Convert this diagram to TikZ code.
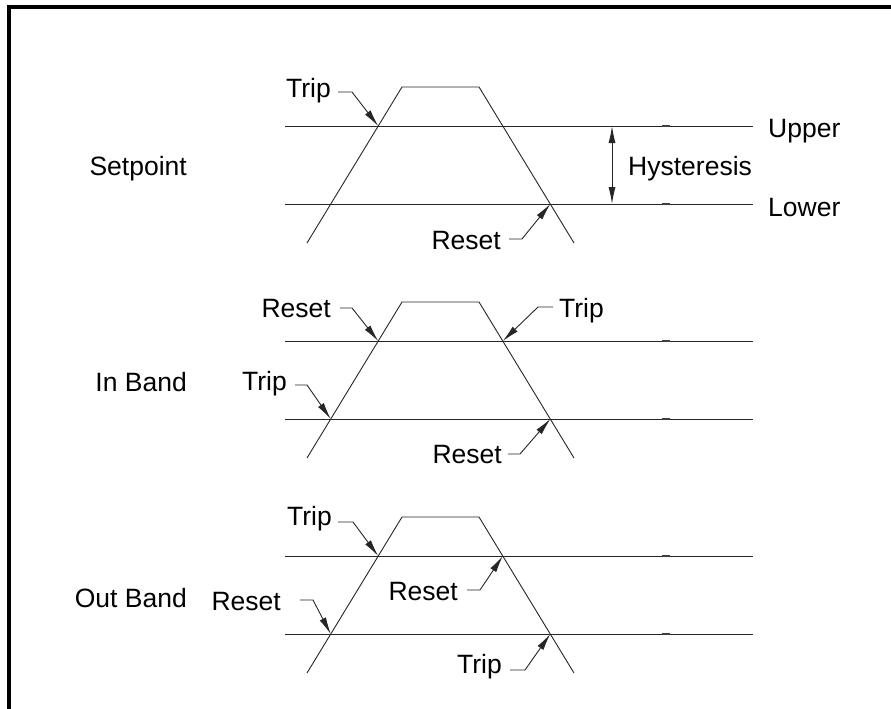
\documentclass[tikz,border=0pt]{standalone}
\usepackage{fontspec}
\setmainfont{Liberation Sans}
\usetikzlibrary{arrows.meta}
\begin{document}
\begin{tikzpicture}[x=1pt,y=-1pt,
  ln/.style={line width=0.9pt, black!85},
  lbl/.style={inner sep=0pt, font=\fontsize{26.5}{30}\selectfont},
  leader/.style={line width=0.9pt, black!85, -{Latex[length=17pt,width=7pt]}},
  tickmark/.style={line width=2.4pt, black!75},
  frame/.style={line width=4pt, black, line join=miter}]
\useasboundingbox (0,0) rectangle (891,709);
\draw[frame] (9,709) -- (9,7) -- (891,7);

% three sections of lines and ramps
\foreach \T/\s in {87/a,302/b,517/c}{
  \coordinate (\s uL) at (378.2,\T+39);
  \coordinate (\s uR) at (502.8,\T+39);
  \coordinate (\s lL) at (330.7,\T+117);
  \coordinate (\s lR) at (550.3,\T+117);
  \draw[ln] (285,\T+39) -- (753,\T+39);
  \draw[ln] (285,\T+117) -- (753,\T+117);
  \draw[ln] (307,\T+156) -- (402,\T) -- (479,\T) -- (574,\T+156);
  \draw[tickmark] (662,\T+39) -- (670,\T+39);
  \draw[tickmark] (662,\T+117) -- (670,\T+117);
}

% Section 1: Setpoint
\node[lbl, anchor=base east] (sp) at (187,175) {Setpoint};
\node[lbl, anchor=base west] (up) at (768,137) {Upper};
\node[lbl, anchor=base west] (lo) at (768,216) {Lower};
\node[lbl, anchor=base west] (hy) at (628,175) {Hysteresis};
\coordinate (hyT) at (612,126);
\coordinate (hyB) at (612,204);
\draw[line width=0.9pt, black!85, {Latex[length=17pt,width=7pt]}-{Latex[length=17pt,width=7pt]}] (hyT) -- (hyB);

\node[lbl, anchor=base east] (a1) at (331,97) {Trip};
\coordinate (a1s) at (338,92);
\draw[leader] (a1s) -- ++(14,0) -- (auL);
\node[lbl, anchor=base east] (a2) at (501,249) {Reset};
\coordinate (a2s) at (509,239);
\draw[leader] (a2s) -- ++(13,0) -- (alR);

% Section 2: In Band
\node[lbl, anchor=base east] (ib) at (187,391) {In Band};
\node[lbl, anchor=base east] (b1) at (331,317) {Reset};
\coordinate (b1s) at (340,308);
\draw[leader] (b1s) -- ++(12,0) -- (buL);
\node[lbl, anchor=base west] (b2) at (559,317) {Trip};
\coordinate (b2s) at (553,307);
\draw[leader] (b2s) -- ++(-15,0) -- (buR);
\node[lbl, anchor=base east] (b3) at (287,390) {Trip};
\coordinate (b3s) at (295,385);
\draw[leader] (b3s) -- ++(12,0) -- (blL);
\node[lbl, anchor=base east] (b4) at (502,463) {Reset};
\coordinate (b4s) at (508,454);
\draw[leader] (b4s) -- ++(12,0) -- (blR);

% Section 3: Out Band
\node[lbl, anchor=base east] (ob) at (187,607) {Out Band};
\node[lbl, anchor=base east] (c1) at (332,525) {Trip};
\coordinate (c1s) at (338,522);
\draw[leader] (c1s) -- ++(15,0) -- (cuL);
\node[lbl, anchor=base east] (c2) at (458,600) {Reset};
\coordinate (c2s) at (467,590);
\draw[leader] (c2s) -- ++(13,0) -- (cuR);
\node[lbl, anchor=base east] (c3) at (281,610) {Reset};
\coordinate (c3s) at (300,600);
\draw[leader] (c3s) -- ++(13,0) -- (clL);
\node[lbl, anchor=base east] (c4) at (502,673) {Trip};
\coordinate (c4s) at (510,670);
\draw[leader] (c4s) -- ++(15,0) -- (clR);
\end{tikzpicture}
\end{document}
